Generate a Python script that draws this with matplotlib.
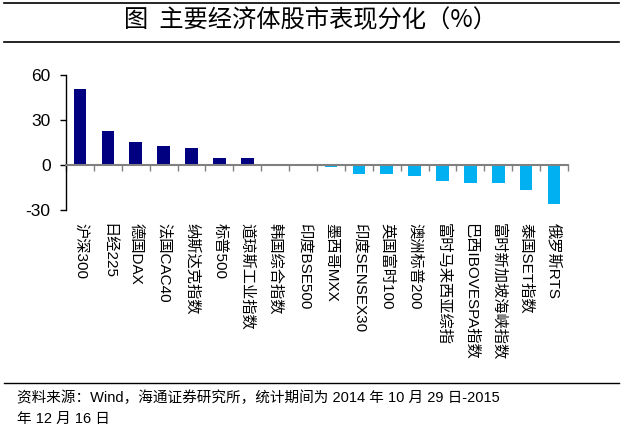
import matplotlib.pyplot as plt
from matplotlib.lines import Line2D

plt.rcParams['font.family'] = ['Liberation Sans', 'Noto Sans CJK SC', 'DejaVu Sans']
plt.rcParams['axes.unicode_minus'] = False

categories = ['沪深300', '日经225', '德国DAX', '法国CAC40', '纳斯达克指数', '标普500',
              '道琼斯工业指数', '韩国综合指数', '印度BSE500', '墨西哥MXX', '印度SENSEX30',
              '英国富时100', '澳洲标普200', '富时马来西亚综指', '巴西IBOVESPA指数',
              '富时新加坡海峡指数', '泰国SET指数', '俄罗斯RTS']
values = [50.5, 22.7, 15.3, 12.7, 11.6, 4.9, 4.9, 0.5, 0.3, -1.5, -5.8, -6.0, -7.6,
          -10.9, -11.8, -11.8, -16.7, -25.8]
yticks = [-30, 0, 30, 60]

W, H = 627, 432
fig = plt.figure(figsize=(W / 100, H / 100), dpi=100)
ax = fig.add_axes([66 / W, 1 - 210 / H, (568 - 66) / W, 135 / H])

x = list(range(len(categories)))
colors = ['#000080' if v >= 0 else '#00B0F0' for v in values]
ax.bar(x, values, width=0.45, color=colors, zorder=2)

ax.set_xlim(-0.5, len(categories) - 0.5)
ax.set_ylim(-30, 60)
ax.set_yticks(yticks)
ax.tick_params(axis='y', direction='out', length=4, width=1, labelsize=12.5, pad=7)

for s in ['top', 'right']:
    ax.spines[s].set_visible(False)
ax.spines['left'].set_linewidth(1)
ax.spines['bottom'].set_position(('data', 0))
ax.spines['bottom'].set_color('#808080')
ax.spines['bottom'].set_linewidth(1.5)

ax.set_xticks(x)
ax.set_xticklabels(categories, rotation=-90, fontsize=11,
                   family=['Liberation Sans', 'Noto Sans CJK SC'])
ax.set_xticks([i - 0.5 for i in range(len(categories) + 1)], minor=True)
ax.tick_params(axis='x', which='major', length=0, pad=42)
ax.tick_params(axis='x', which='minor', direction='out', length=4, width=1,
               color='#808080')
for lab in ax.get_xticklabels():
    lab.set_va('top')
    lab.set_ha('center')

# title block and footer
fig.add_artist(Line2D([4 / W, 619 / W], [1 - 3 / H, 1 - 3 / H], color='black', lw=1.2))
fig.add_artist(Line2D([4 / W, 619 / W], [1 - 42 / H, 1 - 42 / H], color='black', lw=1.2))
fig.text(0.495, 1 - 20 / H, '图  主要经济体股市表现分化（%）', ha='center', va='center',
         fontsize=17.5, family=['Noto Sans CJK SC', 'DejaVu Sans'])
fig.add_artist(Line2D([4 / W, 619 / W], [1 - 383 / H, 1 - 383 / H], color='black', lw=1))
fig.text(17 / W, 1 - 398 / H,
         '资料来源：Wind，海通证券研究所，统计期间为 2014 年 10 月 29 日-2015',
         ha='left', va='center', fontsize=10.5)
fig.text(17 / W, 1 - 419 / H, '年 12 月 16 日', ha='left', va='center', fontsize=10.5)

fig.savefig('out.png', dpi=100)
